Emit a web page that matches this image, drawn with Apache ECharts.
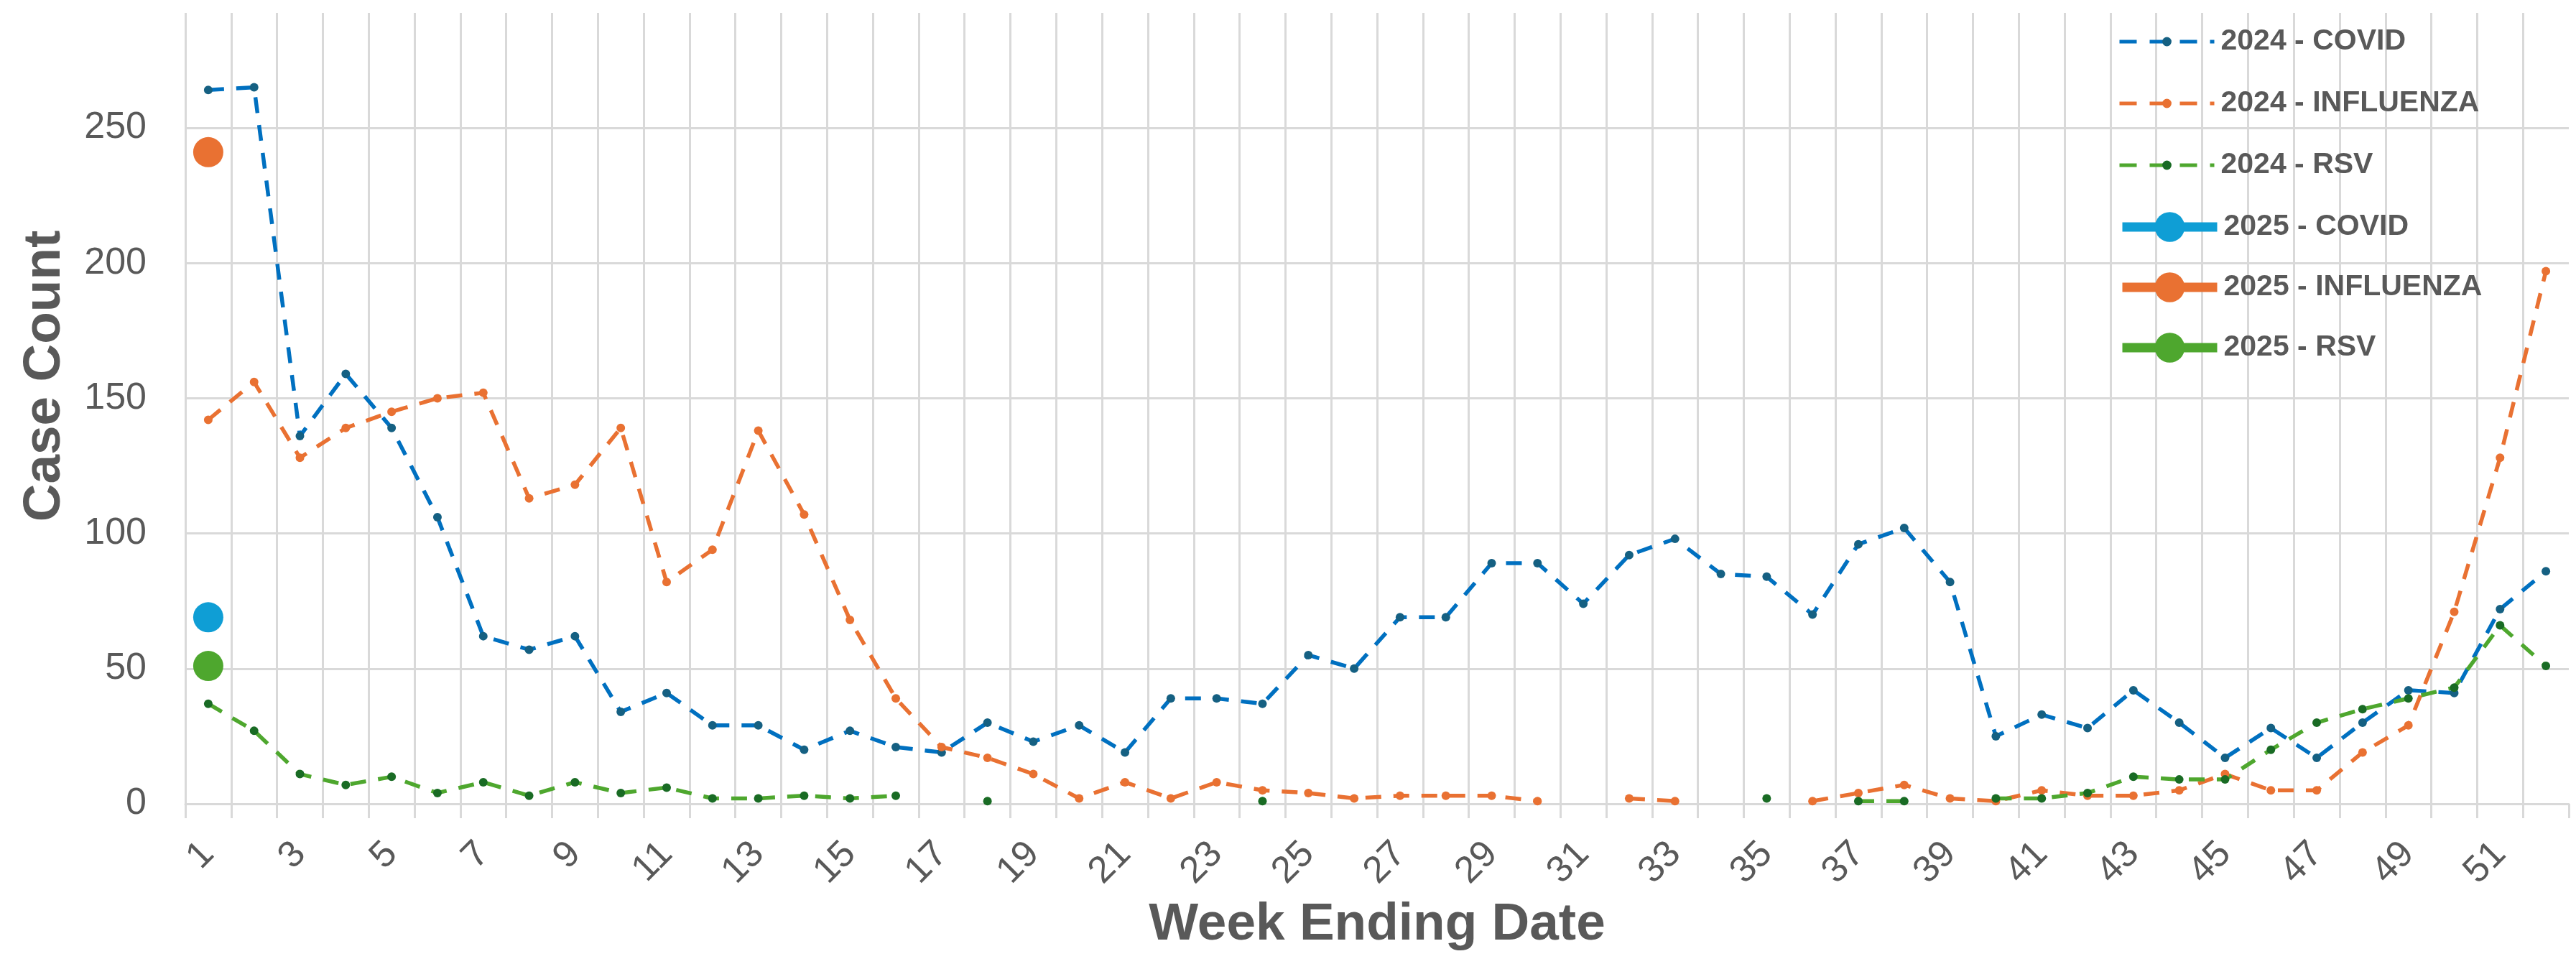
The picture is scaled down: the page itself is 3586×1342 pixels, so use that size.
<!DOCTYPE html>
<html>
<head>
    <meta charset="utf-8">
    <title>Case Count by Week</title>
    <style>
        html, body { margin: 0; padding: 0; background: #ffffff; }
        #container { width: 3586px; height: 1342px; }
    </style>
</head>
<body>
    <div id="container"></div>
    <script src="https://cdn.jsdelivr.net/npm/echarts@6/dist/echarts.min.js"></script>
    <script type="text/javascript">

        // week numbers on the category axis
        var weeks = ['1', '2', '3', '4', '5', '6', '7', '8', '9', '10', '11', '12', '13',
            '14', '15', '16', '17', '18', '19', '20', '21', '22', '23', '24', '25', '26',
            '27', '28', '29', '30', '31', '32', '33', '34', '35', '36', '37', '38', '39',
            '40', '41', '42', '43', '44', '45', '46', '47', '48', '49', '50', '51', '52'];

        // 2024 weekly counts (null = no report that week)
        var covid2024 = [264, 265, 136, 159, 139, 106, 62, 57, 62, 34, 41, 29, 29,
            20, 27, 21, 19, 30, 23, 29, 19, 39, 39, 37, 55, 50,
            69, 69, 89, 89, 74, 92, 98, 85, 84, 70, 96, 102, 82,
            25, 33, 28, 42, 30, 17, 28, 17, 30, 42, 41, 72, 86];
        var flu2024 = [142, 156, 128, 139, 145, 150, 152, 113, 118, 139, 82, 94, 138,
            107, 68, 39, 21, 17, 11, 2, 8, 2, 8, 5, 4, 2,
            3, 3, 3, 1, null, 2, 1, null, null, 1, 4, 7, 2,
            1, 5, 3, 3, 5, 11, 5, 5, 19, 29, 71, 128, 197];
        var rsv2024 = [37, 27, 11, 7, 10, 4, 8, 3, 8, 4, 6, 2, 2,
            3, 2, 3, null, 1, null, null, null, null, null, 1, null, null,
            null, null, null, null, null, null, null, null, 2, null, 1, 1, null,
            2, 2, 4, 10, 9, 9, 20, 30, 35, 39, 43, 66, 51];

        // 2025 so far (week 1 only)
        var covid2025 = [69];
        var flu2025 = [241];
        var rsv2025 = [51];

        var names2024 = ['2024 - COVID', '2024 - INFLUENZA', '2024 - RSV'];
        var names2025 = ['2025 - COVID', '2025 - INFLUENZA', '2025 - RSV'];

        var grey = '#595959';
        var gridGrey = '#D9D9D9';
        var fontFam = '"Liberation Sans", Arial, sans-serif';

        var dom = document.getElementById('container');
        var myChart = echarts.init(dom, null, { renderer: 'canvas' });

        function dashed(name, data, lineColor, dotColor) {
            return {
                name: name,
                type: 'line',
                data: data,
                symbol: 'circle',
                symbolSize: 12,
                showAllSymbol: true,
                connectNulls: false,
                lineStyle: { color: lineColor, width: 5.5, type: [22, 17] },
                itemStyle: { color: dotColor }
            };
        }

        function solid(name, data, color) {
            return {
                name: name,
                type: 'line',
                data: data,
                symbol: 'circle',
                symbolSize: 42,
                showAllSymbol: true,
                lineStyle: { color: color, width: 12 },
                itemStyle: { color: color }
            };
        }

        var legendText = {
            fontFamily: fontFam,
            fontSize: 41,
            fontWeight: 'bold',
            color: grey,
            lineHeight: 50,
            padding: [0, 0, 0, 4]
        };

        var option = {
            animation: false,
            backgroundColor: '#ffffff',
            grid: {
                left: 258,
                right: 10,
                top: 18,
                bottom: 223
            },
            legend: [
                {
                    data: names2024,
                    orient: 'vertical',
                    left: 2943,
                    top: 28,
                    itemWidth: 132,
                    itemHeight: 16,
                    itemGap: 36,
                    lineStyle: { width: 5, type: [24, 18] },
                    textStyle: legendText
                },
                {
                    data: names2025,
                    orient: 'vertical',
                    left: 2943,
                    top: 286,
                    itemWidth: 132,
                    itemHeight: 52,
                    itemGap: 34,
                    lineStyle: { width: 13 },
                    textStyle: legendText
                }
            ],
            xAxis: {
                type: 'category',
                data: weeks,
                boundaryGap: true,
                name: 'Week Ending Date',
                nameLocation: 'middle',
                nameGap: 132,
                nameTextStyle: {
                    fontFamily: fontFam,
                    fontSize: 73,
                    fontWeight: 'bold',
                    color: grey
                },
                axisLine: { show: true, lineStyle: { color: gridGrey, width: 3 } },
                axisTick: {
                    show: true,
                    interval: 0,
                    length: 20,
                    lineStyle: { color: gridGrey, width: 3 }
                },
                axisLabel: {
                    interval: 1,
                    rotate: 45,
                    margin: 62,
                    fontFamily: fontFam,
                    fontSize: 52,
                    color: grey
                },
                splitLine: {
                    show: true,
                    interval: 0,
                    showMaxLine: false,
                    lineStyle: { color: gridGrey, width: 3 }
                }
            },
            yAxis: {
                type: 'value',
                min: 0,
                max: 292.5,
                interval: 50,
                name: 'Case Count',
                nameLocation: 'middle',
                nameGap: 159,
                nameTextStyle: {
                    fontFamily: fontFam,
                    fontSize: 73,
                    fontWeight: 'bold',
                    color: grey,
                    padding: [0, 0, 0, 90]
                },
                axisLine: { show: false },
                axisTick: { show: false },
                axisLabel: {
                    margin: 54,
                    showMaxLabel: false,
                    fontFamily: fontFam,
                    fontSize: 52,
                    color: grey
                },
                splitLine: {
                    show: true,
                    showMaxLine: false,
                    lineStyle: { color: gridGrey, width: 3 }
                }
            },
            series: [
                dashed(names2024[0], covid2024, '#0070C0', '#156082'),
                dashed(names2024[1], flu2024, '#E97132', '#E97132'),
                dashed(names2024[2], rsv2024, '#4EA72E', '#196B24'),
                solid(names2025[0], covid2025, '#0F9ED5'),
                solid(names2025[1], flu2025, '#E97132'),
                solid(names2025[2], rsv2025, '#4EA72E')
            ]
        };

        if (option && typeof option === 'object') {
            myChart.setOption(option);
        }

        window.addEventListener('resize', myChart.resize);
    </script>
</body>
</html>
